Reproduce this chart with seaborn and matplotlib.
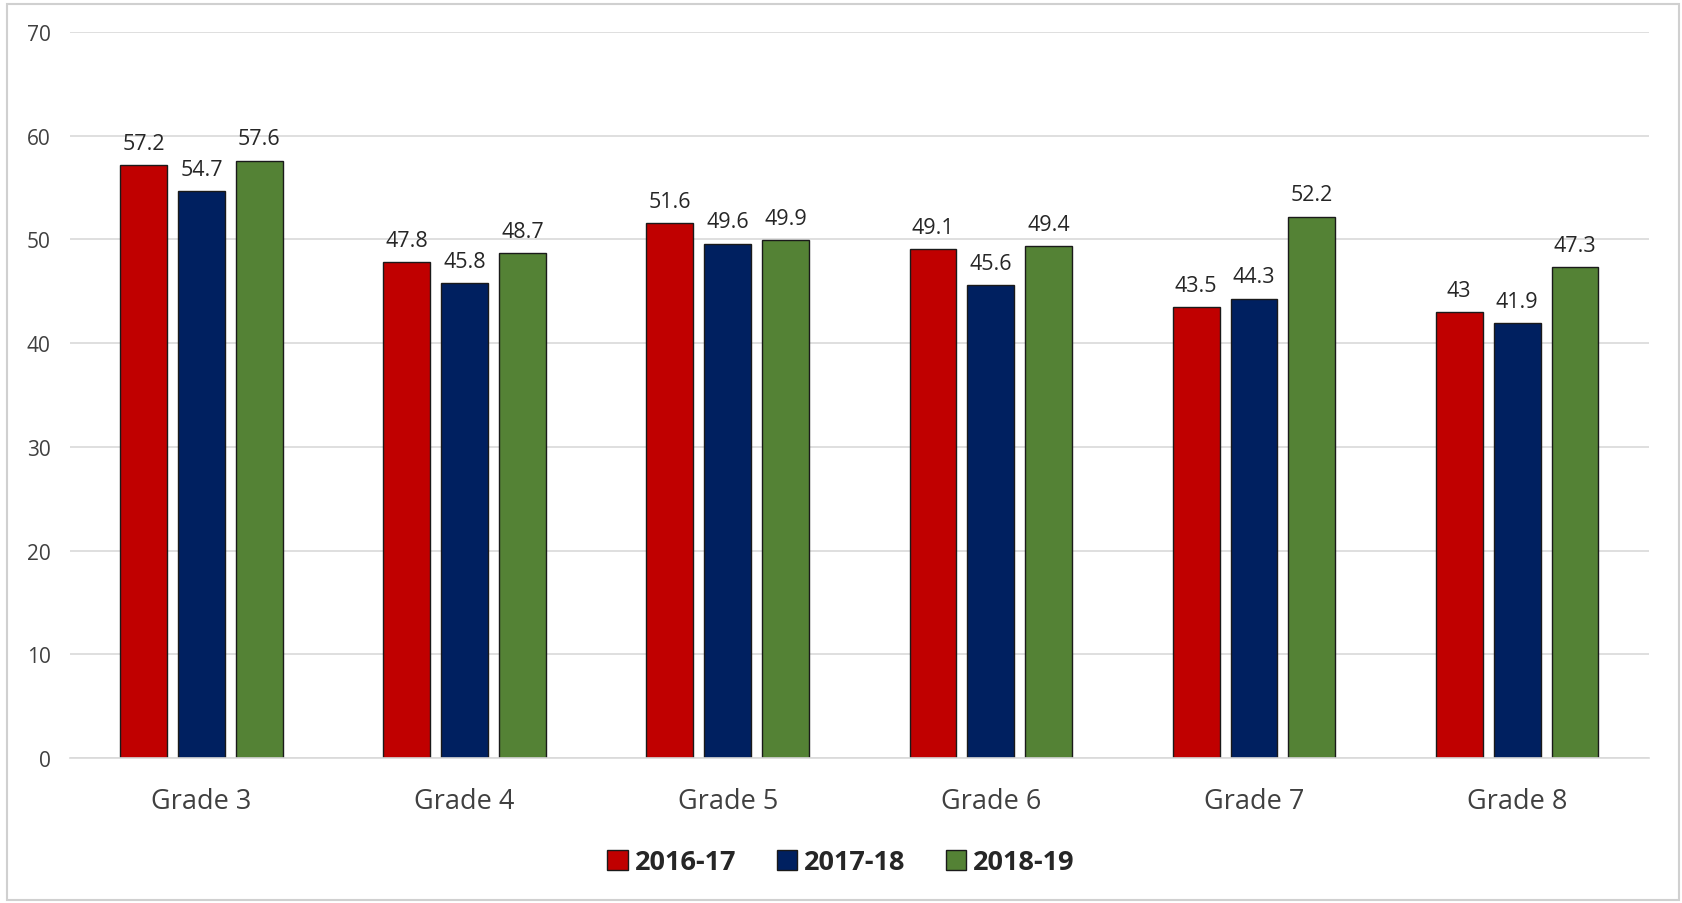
import pandas as pd
import matplotlib.pyplot as plt
import seaborn as sns
from matplotlib.patches import Rectangle

# -----------------------------
# Data
# -----------------------------
grades = ["Grade 3", "Grade 4", "Grade 5", "Grade 6", "Grade 7", "Grade 8"]
years = ["2016-17", "2017-18", "2018-19"]
y2016 = [57.2, 47.8, 51.6, 49.1, 43.5, 43.0]
y2017 = [54.7, 45.8, 49.6, 45.6, 44.3, 41.9]
y2018 = [57.6, 48.7, 49.9, 49.4, 52.2, 47.3]
colors = ["#C00000", "#002060", "#548235"]

df = pd.DataFrame({
    "Grade": grades * 3,
    "Year": [years[0]] * 6 + [years[1]] * 6 + [years[2]] * 6,
    "Value": y2016 + y2017 + y2018,
})

# -----------------------------
# Plot
# -----------------------------
sns.set_theme(style="white")
plt.rcParams['font.family'] = ['Open Sans', 'DejaVu Sans']

fig = plt.figure(figsize=(16.82, 9.04), dpi=100)
ax = fig.add_axes([0.0416, 0.1604, 0.9386, 0.8031])

sns.barplot(data=df, x="Grade", y="Value", hue="Year", palette=colors,
            width=0.66, gap=0.19, edgecolor="#1a1a1a", linewidth=1.0,
            saturation=1, ax=ax)

for c in ax.containers:
    ax.bar_label(c, fmt="%g", padding=8, fontsize=15.5, color="#262626")

ax.set_ylim(0, 70)
ax.set_yticks(range(0, 71, 10))
ax.yaxis.grid(True, color="#d9d9d9", linewidth=1.2)
ax.set_axisbelow(True)
for s in ["left", "right", "top"]:
    ax.spines[s].set_visible(False)
ax.spines["bottom"].set_color("#d9d9d9")
ax.spines["bottom"].set_linewidth(1.2)
ax.tick_params(axis="y", labelsize=15, labelcolor="#404040", pad=14, length=0)
ax.tick_params(axis="x", labelsize=19.5, labelcolor="#404040", pad=21, length=0)
ax.set_xlabel("")
ax.set_ylabel("")

ax.legend(loc="center", bbox_to_anchor=(0.5, 0.045), bbox_transform=fig.transFigure,
          ncol=3, frameon=False, prop={"weight": "bold", "size": 19.5},
          handlelength=0.75, handleheight=0.75, handletextpad=0.25, columnspacing=1.5)

fig.patches.append(Rectangle((0.004, 0.003), 0.994, 0.992, transform=fig.transFigure,
                             fill=False, edgecolor="#d0d0d0", linewidth=1.5))

fig.savefig("out.png", dpi=100)
